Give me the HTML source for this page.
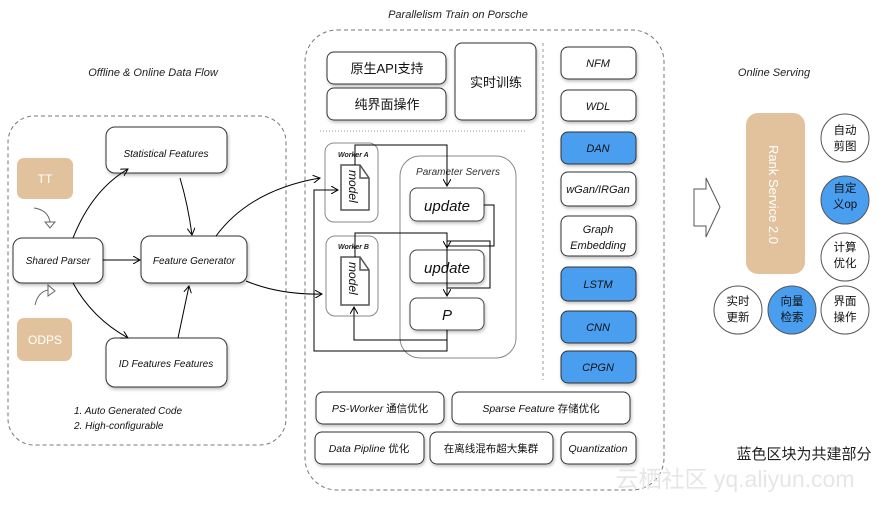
<!DOCTYPE html>
<html><head><meta charset="utf-8"><style>
body{margin:0;background:#fff;}
svg text{font-family:"Liberation Sans","Noto Sans CJK SC",sans-serif;}
</style></head><body>
<svg width="896" height="503" viewBox="0 0 896 503" xmlns="http://www.w3.org/2000/svg">
<defs>
<marker id="a" markerWidth="8" markerHeight="8" refX="7" refY="4" orient="auto" markerUnits="userSpaceOnUse"><path d="M0,0 L7,4 L0,8" fill="none" stroke="#000" stroke-width="1"/></marker>
<filter id="s" x="-10%" y="-10%" width="130%" height="140%"><feDropShadow dx="1" dy="2" stdDeviation="1.5" flood-color="#000" flood-opacity="0.25"/></filter>
</defs>
<g font-size="11" fill="#222">
<text x="153" y="76" text-anchor="middle" font-style="italic">Offline &amp; Online Data Flow</text>
<text x="458" y="18" text-anchor="middle" font-style="italic">Parallelism Train on Porsche</text>
<text x="774" y="76" text-anchor="middle" font-style="italic">Online Serving</text>
</g>
<!-- left -->
<rect x="8" y="116" width="278" height="329" rx="26" fill="none" stroke="#777" stroke-dasharray="4,3"/>
<rect x="17" y="158" width="56" height="41" rx="7" fill="#e2c29c"/>
<text x="45" y="183" fill="#fff" font-size="12" text-anchor="middle">TT</text>
<rect x="17" y="318" width="55" height="43" rx="7" fill="#e2c29c"/>
<text x="45" y="344" fill="#fff" font-size="12" text-anchor="middle">ODPS</text>
<path d="M34,208 Q48,210 50,222" fill="none" stroke="#666"/><path d="M45,222 L55,222 L50,228 Z" fill="#fff" stroke="#666"/>
<path d="M35,305 Q38,292 48,290" fill="none" stroke="#666"/><path d="M48,285 L55,291 L48,296 Z" fill="#fff" stroke="#666"/>
<g fill="#fff" stroke="#333" filter="url(#s)">
<rect x="106" y="127" width="121" height="46" rx="9"/>
<rect x="13" y="238" width="90" height="45" rx="9"/>
<rect x="141" y="236" width="106" height="47" rx="9"/>
<rect x="106" y="338" width="121" height="49" rx="9"/>
</g>
<g font-size="10" font-style="italic" fill="#111" text-anchor="middle">
<text x="166" y="157">Statistical Features</text>
<text x="58" y="264">Shared Parser</text>
<text x="194" y="264">Feature Generator</text>
<text x="166" y="367">ID Features Features</text>
</g>
<g fill="none" stroke="#000" marker-end="url(#a)">
<path d="M73,238 Q92,190 128,169"/>
<path d="M73,283 Q92,318 128,338"/>
<path d="M103,260 L140,260"/>
<path d="M180,178 Q188,205 192,235"/>
<path d="M178,338 Q184,310 189,286"/>
<path d="M216,236 Q250,190 320,178"/>
<path d="M246,281 Q280,295 322,294"/>
</g>
<g font-size="10" font-style="italic" fill="#111">
<text x="74" y="414">1.  Auto Generated Code</text>
<text x="74" y="429">2.  High-configurable</text>
</g>
<!-- middle -->
<rect x="305" y="30" width="359" height="460" rx="32" fill="none" stroke="#777" stroke-dasharray="4,3"/>
<g fill="#fff" stroke="#333" filter="url(#s)">
<rect x="327" y="52" width="119" height="32" rx="7"/>
<rect x="327" y="88" width="119" height="32" rx="7"/>
<rect x="455" y="43" width="81" height="77" rx="7"/>
</g>
<g font-size="13" fill="#111" text-anchor="middle">
<text x="387" y="73">原生API支持</text>
<text x="387" y="109">纯界面操作</text>
<text x="496" y="87">实时训练</text>
</g>
<line x1="320" y1="131" x2="525" y2="131" stroke="#999" stroke-dasharray="1,2"/>
<line x1="543" y1="43" x2="543" y2="380" stroke="#999" stroke-dasharray="3,3"/>
<rect x="325" y="143" width="53" height="79" rx="9" fill="none" stroke="#888"/>
<rect x="326" y="236" width="52" height="80" rx="9" fill="none" stroke="#888"/>
<rect x="400" y="156" width="116" height="202" rx="20" fill="none" stroke="#888"/>
<g font-size="7" font-weight="bold" font-style="italic" fill="#222"><text x="338" y="157">Worker A</text><text x="338" y="249">Worker B</text></g>
<text x="458" y="175" font-size="10" font-style="italic" text-anchor="middle" fill="#333">Parameter Servers</text>
<g fill="#fff" stroke="#555" stroke-width="1.5">
<path d="M341,165 L360,165 L369,178 L369,210 L341,210 Z"/><path d="M360,165 L360,178 L369,178" fill="none"/>
<path d="M341,257 L360,257 L369,270 L369,305 L341,305 Z"/><path d="M360,257 L360,270 L369,270" fill="none"/>
</g>
<g font-size="12" font-style="italic" fill="#111"><text transform="translate(349,170) rotate(90)">model</text><text transform="translate(349,262) rotate(90)">model</text></g>
<g fill="#fff" stroke="#444" filter="url(#s)">
<rect x="410" y="188" width="74" height="33" rx="7"/>
<rect x="410" y="250" width="74" height="33" rx="7"/>
<rect x="410" y="298" width="74" height="32" rx="7"/>
</g>
<g font-size="15" font-style="italic" fill="#111" text-anchor="middle">
<text x="447" y="211">update</text><text x="447" y="273">update</text><text x="447" y="320">P</text>
</g>
<g fill="none" stroke="#000" stroke-width="1">
<path d="M355,165 L355,145 L447,145 L447,186" marker-end="url(#a)"/>
<path d="M484,205 L494,205 L494,246 L447,246 L447,248" marker-end="url(#a)"/>
<path d="M355,257 L355,233 L447,233 L447,296" marker-end="url(#a)"/>
<path d="M447,288 L490,288 L490,241 L447,241"/>
<path d="M447,330 L447,340 L354,340 L354,307" marker-end="url(#a)"/>
<path d="M447,340 L447,351 L314,351 L314,190 L338,190" marker-end="url(#a)"/>
</g>
<!-- right column -->
<g stroke="#333" filter="url(#s)">
<rect x="561" y="47" width="75" height="32" rx="7" fill="#fff"/>
<rect x="561" y="90" width="75" height="31" rx="7" fill="#fff"/>
<rect x="561" y="132" width="75" height="32" rx="7" fill="#4a9ef0"/>
<rect x="561" y="172" width="75" height="34" rx="7" fill="#fff"/>
<rect x="561" y="216" width="75" height="40" rx="7" fill="#fff"/>
<rect x="561" y="267" width="75" height="34" rx="7" fill="#4a9ef0"/>
<rect x="561" y="311" width="75" height="32" rx="7" fill="#4a9ef0"/>
<rect x="561" y="351" width="75" height="32" rx="7" fill="#4a9ef0"/>
</g>
<g font-size="11" font-style="italic" fill="#111" text-anchor="middle">
<text x="598" y="67">NFM</text><text x="598" y="110">WDL</text><text x="598" y="152">DAN</text>
<text x="598" y="193">wGan/IRGan</text><text x="598" y="233">Graph</text><text x="598" y="249">Embedding</text>
<text x="598" y="288">LSTM</text><text x="598" y="331">CNN</text><text x="598" y="371">CPGN</text>
</g>
<!-- bottom -->
<g fill="#fff" stroke="#333" filter="url(#s)">
<rect x="316" y="392" width="128" height="32" rx="7"/>
<rect x="452" y="392" width="178" height="32" rx="7"/>
<rect x="315" y="432" width="109" height="32" rx="7"/>
<rect x="430" y="432" width="123" height="32" rx="7"/>
<rect x="561" y="432" width="75" height="32" rx="7"/>
</g>
<g font-size="10.5" fill="#111" text-anchor="middle">
<text x="380" y="412"><tspan font-style="italic">PS-Worker </tspan>通信优化</text>
<text x="541" y="412"><tspan font-style="italic">Sparse Feature </tspan>存储优化</text>
<text x="369" y="452"><tspan font-style="italic">Data Pipline </tspan>优化</text>
<text x="491" y="452">在离线混布超大集群</text>
<text x="598" y="452" font-style="italic">Quantization</text>
</g>
<!-- serving -->
<path d="M694,189 L706,189 L706,178 L720,207 L706,237 L706,226 L694,226 Z" fill="#fff" stroke="#555"/>
<rect x="746" y="113" width="59" height="161" rx="12" fill="#e2c29c"/>
<text transform="translate(769,145) rotate(90)" font-size="13" fill="#fff">Rank Service 2.0</text>
<g stroke="#555">
<circle cx="845" cy="138" r="24" fill="#fff"/><circle cx="845" cy="200" r="24" fill="#4a9ef0"/>
<circle cx="845" cy="257" r="24" fill="#fff"/><circle cx="738" cy="310" r="24" fill="#fff"/>
<circle cx="792" cy="310" r="24" fill="#4a9ef0"/><circle cx="845" cy="310" r="24" fill="#fff"/>
</g>
<g font-size="11.5" fill="#111" text-anchor="middle">
<text x="845" y="134">自动</text><text x="845" y="150">剪图</text>
<text x="845" y="192">自定</text><text x="845" y="208">义op</text>
<text x="845" y="251">计算</text><text x="845" y="267">优化</text>
<text x="738" y="305">实时</text><text x="738" y="321">更新</text>
<text x="792" y="305">向量</text><text x="792" y="321">检索</text>
<text x="845" y="305">界面</text><text x="845" y="321">操作</text>
</g>
<text x="804" y="459" font-size="15" fill="#222" text-anchor="middle">蓝色区块为共建部分</text>
<text x="735" y="487" font-size="23" fill="#e6e6e6" text-anchor="middle">云栖社区 yq.aliyun.com</text>
</svg>
</body></html>
